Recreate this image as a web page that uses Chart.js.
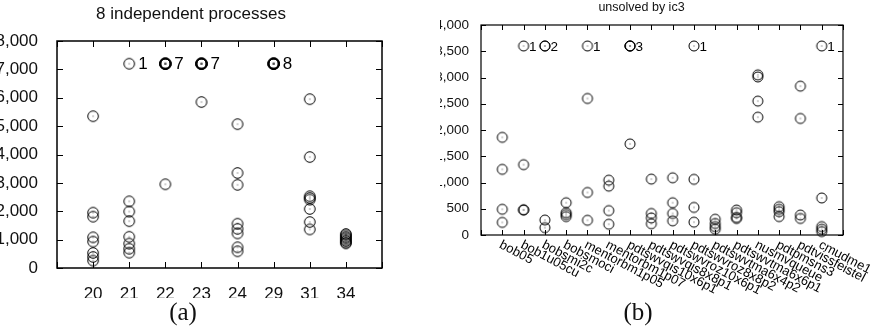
<!DOCTYPE html>
<html>
<head>
<meta charset="utf-8">
<script src="https://cdn.jsdelivr.net/npm/chart.js@4.4.0/dist/chart.umd.min.js"></script>
<style>
  html, body { margin: 0; padding: 0; background: #fff; }
  #wrap { position: relative; width: 874px; height: 330px; overflow: hidden; }
  canvas { position: absolute; top: 0; }
  .cap { position: absolute; font-family: "Liberation Serif", serif; font-size: 25px; color: #111;
         transform: translate(-50%, -50%); white-space: nowrap; }
</style>
</head>
<body>
<div id="wrap">
  <canvas id="left" width="440" height="330" style="left:0"></canvas>
  <canvas id="right" width="434" height="330" style="left:440px"></canvas>
  <div class="cap" style="left:183px; top:312px">(a)</div>
  <div class="cap" style="left:638px; top:312px">(b)</div>
</div>
<script>
// (a) run times per number of processes
var procCats = ['20', '21', '22', '23', '24', '29', '31', '34'];
var procRuns = [
  [5350, 1950, 1810, 1080, 930, 530, 390, 260],
  [2350, 1990, 1650, 1100, 860, 680, 540],
  [2950],
  [5850],
  [5070, 3350, 2930, 1560, 1380, 1220, 730, 590],
  [],
  [5950, 3910, 2530, 2470, 2410, 2080, 1620, 1360],
  [1200, 1150, 1100, 1050, 1000, 950, 900, 870]
];
var procTimeouts = [0, 1, 7, 7, 0, 8, 0, 0];
var procLimit = 7200;
var procTicks = [0, 1000, 2000, 3000, 4000, 5000, 6000, 7000, 8000];

// (b) benchmarks unsolved by ic3
var benchCats = ['bob05', 'bob1u05cu', 'bobsmi2c', 'bobsmoci', 'mentorbm1p05', 'mentorbm1p07',
  'pdtswvqis10x6p1', 'pdtswvqis8x8p1', 'pdtswvroz10x6p1', 'pdtswvroz8x8p2', 'pdtswvtma6x4p2',
  'pdtswvtma6x6p1', 'nusmvqueue', 'pdtpmsns3', 'pdtvissfeistel', 'cmudme1'];
var benchRuns = [
  [1860, 1250, 490, 240],
  [1340, 480, 475],
  [285, 140],
  [615, 425, 390, 350],
  [2600, 810, 280],
  [1045, 930, 465, 205],
  [1735],
  [1065, 410, 325, 215],
  [1090, 615, 410, 270],
  [1060, 525, 245],
  [300, 220, 160, 110],
  [475, 425, 335, 315],
  [3050, 3010, 2550, 2245],
  [540, 490, 445, 350],
  [2835, 2220, 380, 315],
  [705, 160, 110, 65]
];
var benchTimeouts = [0, 1, 2, 0, 1, 0, 3, 0, 0, 1, 0, 0, 0, 0, 0, 1];
var benchLimit = 3600;
var benchTicks = [0, 500, 1000, 1500, 2000, 2500, 3000, 3500, 4000];

function ringDot(r) {
  var c = document.createElement('canvas');
  c.width = 14; c.height = 14;
  var g = c.getContext('2d');
  g.strokeStyle = '#000';
  g.lineWidth = 1;
  g.beginPath();
  g.arc(7, 7, r, 0, Math.PI * 2);
  g.stroke();
  g.fillStyle = '#444';
  g.fillRect(6.5, 6.5, 1, 1);
  return c;
}

function toPoints(runs, timeouts, limit) {
  var pts = [];
  runs.forEach(function (vals, i) {
    vals.forEach(function (v) { pts.push({ x: i, y: v }); });
    for (var k = 0; k < timeouts[i]; k++) pts.push({ x: i, y: limit });
  });
  return pts;
}

// frame with inward ticks on all four sides, timeout counts, optional slanted labels
var gnuFrame = {
  id: 'gnuFrame',
  afterDraw: function (chart, args, o) {
    var ctx = chart.ctx, a = chart.chartArea, xs = chart.scales.x, ys = chart.scales.y;
    ctx.save();
    ctx.strokeStyle = '#000';
    ctx.lineWidth = o.width;
    ctx.strokeRect(a.left, a.top, a.right - a.left, a.bottom - a.top);
    ctx.lineWidth = 1;
    ctx.beginPath();
    ys.ticks.forEach(function (t) {
      var py = Math.round(ys.getPixelForValue(t.value)) + 0.5;
      ctx.moveTo(a.left, py); ctx.lineTo(a.left + o.len, py);
      ctx.moveTo(a.right, py); ctx.lineTo(a.right - o.len, py);
    });
    xs.ticks.forEach(function (t) {
      var px = Math.round(xs.getPixelForValue(t.value)) + 0.5;
      ctx.moveTo(px, a.bottom); ctx.lineTo(px, a.bottom - o.len);
      ctx.moveTo(px, a.top); ctx.lineTo(px, a.top + o.len);
    });
    ctx.stroke();

    ctx.fillStyle = '#000';
    ctx.font = o.font;
    ctx.textAlign = 'left';
    ctx.textBaseline = 'middle';
    o.counts.forEach(function (n, i) {
      if (!n) return;
      ctx.fillText(String(n), xs.getPixelForValue(i) + o.gap, ys.getPixelForValue(o.limit) + 1);
    });

    if (o.slanted) {
      ctx.font = o.slanted.font;
      o.slanted.labels.forEach(function (s, i) {
        ctx.save();
        ctx.translate(xs.getPixelForValue(i) - 2, a.bottom + o.slanted.dy);
        ctx.rotate(o.slanted.angle * Math.PI / 180);
        ctx.fillText(s, 0, 0);
        ctx.restore();
      });
    }
    ctx.restore();
  }
};

function makeChart(id, cfg) {
  return new Chart(document.getElementById(id), {
    type: 'scatter',
    data: {
      datasets: [{
        data: toPoints(cfg.runs, cfg.timeouts, cfg.limit),
        pointStyle: ringDot(cfg.r),
        clip: false
      }]
    },
    options: {
      responsive: false,
      animation: false,
      layout: { padding: { left: 0, right: cfg.padRight, top: 0, bottom: cfg.padBottom } },
      plugins: {
        legend: { display: false },
        tooltip: { enabled: false },
        title: {
          display: true,
          text: cfg.title,
          color: '#111',
          font: { family: 'Liberation Sans', size: cfg.titleSize, weight: 'normal' },
          padding: cfg.titlePad
        },
        gnuFrame: {
          width: cfg.frame, len: cfg.tickLen, counts: cfg.timeouts, limit: cfg.limit,
          gap: cfg.gap, font: cfg.tickSize + 'px "Liberation Sans"', slanted: cfg.slanted
        }
      },
      scales: {
        x: {
          type: 'linear',
          min: -1,
          max: cfg.cats.length,
          grid: { display: false },
          border: { display: false },
          afterFit: function (s) { s.height = cfg.xHeight; },
          ticks: {
            display: !cfg.slanted,
            stepSize: 1,
            maxTicksLimit: 100,
            autoSkip: false,
            maxRotation: 0,
            padding: cfg.xPad,
            color: '#111',
            font: { family: 'Liberation Sans', size: cfg.tickSize },
            callback: function (v) { return cfg.cats[v] || ''; }
          }
        },
        y: {
          min: 0,
          max: cfg.yTicks[cfg.yTicks.length - 1],
          grid: { display: false },
          border: { display: false },
          afterFit: function (s) { s.width = cfg.yWidth; },
          afterBuildTicks: function (s) { s.ticks = cfg.yTicks.map(function (v) { return { value: v }; }); },
          ticks: {
            padding: cfg.yPad,
            color: '#111',
            font: { family: 'Liberation Sans', size: cfg.tickSize }
          }
        }
      }
    },
    plugins: [gnuFrame]
  });
}

makeChart('left', {
  cats: procCats, runs: procRuns, timeouts: procTimeouts, limit: procLimit, yTicks: procTicks,
  title: '8 independent processes', titleSize: 17, titlePad: { top: 4, bottom: 16.6 },
  tickSize: 17, r: 5.3, frame: 1.5, tickLen: 6, gap: 9,
  yWidth: 57, padRight: 58, xHeight: 30, padBottom: 32, xPad: 8, yPad: 11
});

makeChart('right', {
  cats: benchCats, runs: benchRuns, timeouts: benchTimeouts, limit: benchLimit, yTicks: benchTicks,
  title: 'unsolved by ic3', titleSize: 12.5, titlePad: { top: 0.5, bottom: 9.5 },
  tickSize: 13.5, r: 5, frame: 1.2, tickLen: 5, gap: 5.5,
  yWidth: 41, padRight: 31, xHeight: 60, padBottom: 35, xPad: 4, yPad: 4,
  slanted: { labels: benchCats, angle: 28, dy: 9, font: '13px "Liberation Sans"' }
});
</script>
</body>
</html>
